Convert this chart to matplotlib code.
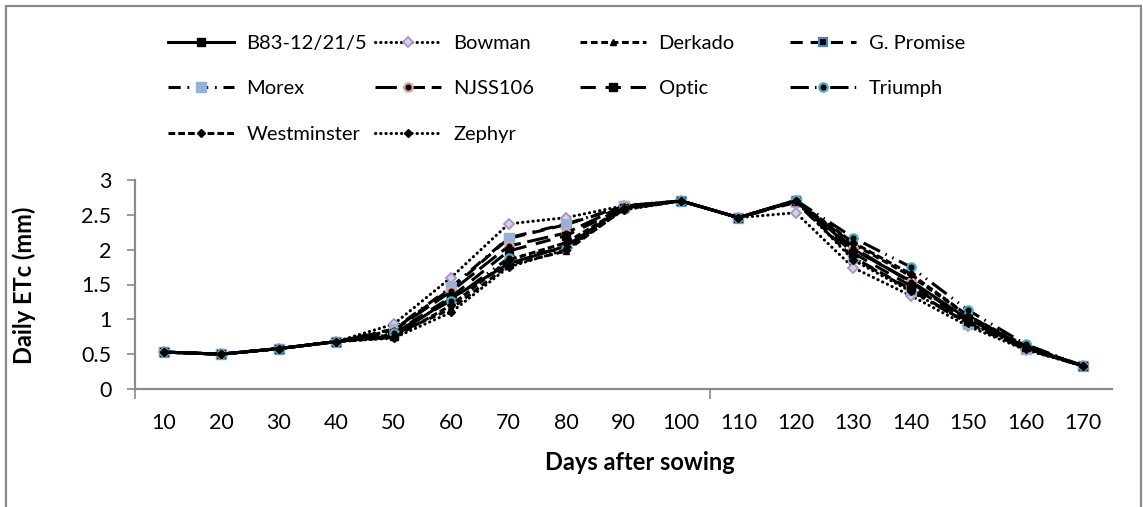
import matplotlib
matplotlib.use('Agg')
import matplotlib.pyplot as plt
from matplotlib.patches import Rectangle

# ---------------- data ----------------
days = [10, 20, 30, 40, 50, 60, 70, 80, 90, 100, 110, 120, 130, 140, 150, 160, 170]

b83         = [0.53, 0.50, 0.58, 0.68, 0.76, 1.30, 1.80, 2.05, 2.60, 2.70, 2.46, 2.71, 2.00, 1.55, 1.00, 0.60, 0.33]
bowman      = [0.53, 0.50, 0.58, 0.68, 0.93, 1.60, 2.37, 2.46, 2.63, 2.70, 2.46, 2.53, 1.74, 1.34, 0.90, 0.56, 0.33]
derkado     = [0.53, 0.50, 0.58, 0.68, 0.78, 1.15, 1.78, 1.98, 2.58, 2.70, 2.46, 2.70, 2.08, 1.62, 1.05, 0.60, 0.33]
g_promise   = [0.53, 0.50, 0.58, 0.68, 0.85, 1.44, 2.16, 2.36, 2.62, 2.70, 2.46, 2.70, 1.89, 1.43, 0.94, 0.58, 0.33]
morex       = [0.53, 0.50, 0.58, 0.68, 0.86, 1.46, 2.17, 2.37, 2.62, 2.70, 2.46, 2.68, 1.88, 1.42, 0.93, 0.57, 0.33]
njss106     = [0.53, 0.50, 0.58, 0.68, 0.84, 1.40, 2.05, 2.24, 2.63, 2.70, 2.46, 2.70, 2.03, 1.53, 0.98, 0.60, 0.33]
optic       = [0.53, 0.50, 0.58, 0.68, 0.80, 1.32, 1.98, 2.20, 2.60, 2.70, 2.46, 2.70, 1.95, 1.48, 0.97, 0.60, 0.33]
triumph     = [0.53, 0.50, 0.58, 0.68, 0.80, 1.27, 1.88, 2.02, 2.58, 2.70, 2.46, 2.71, 2.17, 1.75, 1.13, 0.64, 0.33]
westminster = [0.53, 0.50, 0.58, 0.68, 0.74, 1.20, 1.85, 2.10, 2.60, 2.70, 2.46, 2.70, 2.10, 1.65, 1.05, 0.62, 0.33]
zephyr      = [0.53, 0.50, 0.58, 0.68, 0.73, 1.10, 1.75, 2.00, 2.57, 2.70, 2.46, 2.70, 1.85, 1.40, 0.95, 0.58, 0.33]

names = ["B83-12/21/5", "Bowman", "Derkado", "G. Promise", "Morex",
         "NJSS106", "Optic", "Triumph", "Westminster", "Zephyr"]
values = [b83, bowman, derkado, g_promise, morex, njss106, optic, triumph, westminster, zephyr]

y_ticks = [0, 0.5, 1, 1.5, 2, 2.5, 3]
y_ticklabels = ["0", "0.5", "1", "1.5", "2", "2.5", "3"]

# ---------------- styles ----------------
LW = 2.2
styles = [
    dict(ls='-', marker='s', ms=5.5, mfc='black', mec='black'),
    dict(dashes=(0.1, 1.6), dash_capstyle='round', marker='D', ms=5, mfc='#d9d0e6', mec='#a594c4', mew=1.3),
    dict(dashes=(2.2, 1.2), marker='^', ms=5, mfc='black', mec='black'),
    dict(dashes=(4.0, 2.6), marker='s', ms=5.5, mfc='black', mec='#4f81bd', mew=1.6),
    dict(dashes=(4.0, 2.2, 0.6, 2.2), marker='s', ms=6.5, mfc='#95b3d7', mec='#95b3d7', mew=1.0),
    dict(dashes=(7.0, 2.2), marker='o', ms=6, mfc='black', mec='#e0a09e', mew=1.6),
    dict(dashes=(5.0, 3.2), marker='s', ms=5.5, mfc='black', mec='black'),
    dict(dashes=(6.0, 2.0, 0.5, 2.0, 0.5, 2.0), marker='o', ms=6, mfc='black', mec='#4bacc6', mew=1.6),
    dict(dashes=(2.2, 1.0), marker='D', ms=4, mfc='black', mec='black'),
    dict(dashes=(0.1, 1.6), dash_capstyle='round', marker='D', ms=4, mfc='black', mec='black'),
]

FONT = 'Lato'
plt.rcParams['font.family'] = [FONT, 'DejaVu Sans']

W, H = 1143, 507
fig = plt.figure(figsize=(W / 100, H / 100), dpi=100)
fig.patch.set_facecolor('white')

# outer chart border (extends beyond bottom of image)
fig.patches.append(Rectangle((6 / W, -0.1), (1141 - 6) / W, (1 - 6 / H) + 0.1,
                             transform=fig.transFigure, fill=False,
                             ec='#8a8a8a', lw=1.6, clip_on=False))

left, right, top, bottom = 135, 1112, 180, 389
ax = fig.add_axes([left / W, (H - bottom) / H, (right - left) / W, (bottom - top) / H])

x = list(range(len(days)))
handles = []
for name, vals, st in zip(names, values, styles):
    h, = ax.plot(x, vals, color='black', lw=LW, label=name, **st)
    handles.append(h)

ax.set_xlim(-0.5, len(days) - 0.5)
ax.set_ylim(0, 3)

ax.set_xticks(x)
ax.set_xticklabels([str(d) for d in days], fontsize=15.5)
ax.tick_params(axis='x', which='major', length=0, pad=17)
ax.set_xticks([-0.5, 9.5], minor=True)
ax.tick_params(axis='x', which='minor', length=7, width=1.2, color='#8a8a8a', direction='out')

ax.set_yticks(y_ticks)
ax.set_yticklabels(y_ticklabels, fontsize=15.5)
ax.tick_params(axis='y', length=6, width=1.2, color='#8a8a8a', direction='out', pad=11)

for s in ['top', 'right']:
    ax.spines[s].set_visible(False)
for s in ['left', 'bottom']:
    ax.spines[s].set_color('#8a8a8a')
    ax.spines[s].set_linewidth(1.6)

fig.text(24 / W, 1 - 285 / H, "Daily ETc (mm)", rotation=90, ha='center', va='center',
         fontsize=17, fontweight='bold')
fig.text((left + right) / 2 / W + 16 / W, 1 - 463 / H, "Days after sowing", ha='center', va='center',
         fontsize=17, fontweight='bold')

# legend: 4 columns placed individually
col_x = [168, 375, 580, 790]
for c in range(4):
    hs = handles[c::4]
    fig.legend(handles=hs, labels=[h.get_label() for h in hs],
               loc='upper left', bbox_to_anchor=(col_x[c] / W, 1 - 35 / H),
               frameon=False, borderpad=0, borderaxespad=0,
               handlelength=3.3, handletextpad=0.6, labelspacing=1.4,
               fontsize=14.5, numpoints=1)

fig.savefig('out.png', dpi=100, facecolor='white')
